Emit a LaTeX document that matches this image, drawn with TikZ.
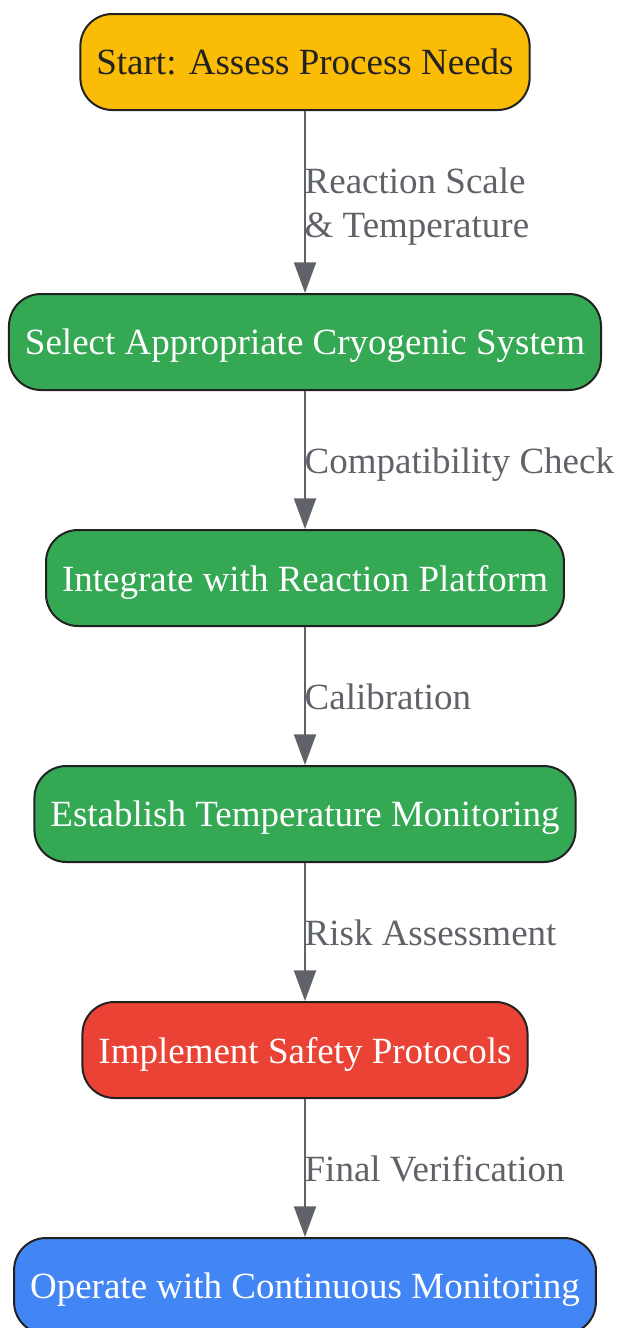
\documentclass[tikz,border=0pt]{standalone}
\usepackage{fontspec}
\setmainfont{Liberation Serif}
\usetikzlibrary{arrows.meta,positioning}
\definecolor{startyellow}{HTML}{FBBC05}
\definecolor{stepgreen}{HTML}{34A853}
\definecolor{safetyred}{HTML}{EA4335}
\definecolor{operateblue}{HTML}{4285F4}
\definecolor{edgegray}{HTML}{5F6368}
\definecolor{framegray}{HTML}{222222}
\tikzset{flowbox/.style = {rounded corners=24pt, minimum height=72pt, inner xsep=12pt, text depth=0pt, draw=framegray, line width=1.5pt, font=\fontsize{27.75}{33}\selectfont}}
\tikzset{stepbox/.style = {flowbox, fill=stepgreen, text=white}}
\tikzset{flowarrow/.style={draw=edgegray, line width=1.5pt, -{Triangle[length=23pt,width=16.5pt]}}}
\tikzset{edgelabel/.style={anchor=west, inner xsep=0pt, xshift=-1pt, yshift=-3.5pt, align=left, text=edgegray, font=\fontsize{27.75}{33}\selectfont, execute at begin node=\strut, execute at end node=\strut}}

\begin{document}
\begin{tikzpicture}[x=0.75pt,y=-0.75pt]
	\useasboundingbox (0,0) rectangle (617,1328);
	\node[flowbox, fill=startyellow, text=framegray] (start) at (305,62) {Start: Assess Process Needs};
	\node[stepbox] (select) at (305,342) {Select Appropriate Cryogenic System};
	\node[stepbox] (integrate) at (305,578) {Integrate with Reaction Platform};
	\node[stepbox] (monitor) at (305,814) {Establish Temperature Monitoring};
	\node[flowbox, fill=safetyred, text=white] (safety) at (305,1050) {Implement Safety Protocols};
	\node[flowbox, fill=operateblue, text=white] (operate) at (305,1286) {Operate with Continuous Monitoring};
	% connectors with their labels
	\draw[flowarrow] (start) -- node[edgelabel, yshift=-2.25pt] {Reaction Scale\\\& Temperature} (select);
	\draw[flowarrow] (select) -- node[edgelabel] {Compatibility Check} (integrate);
	\draw[flowarrow] (integrate) -- node[edgelabel] {Calibration} (monitor);
	\draw[flowarrow] (monitor) -- node[edgelabel] {Risk Assessment} (safety);
	\draw[flowarrow] (safety) -- node[edgelabel] {Final Verification} (operate);
\end{tikzpicture}
\end{document}
